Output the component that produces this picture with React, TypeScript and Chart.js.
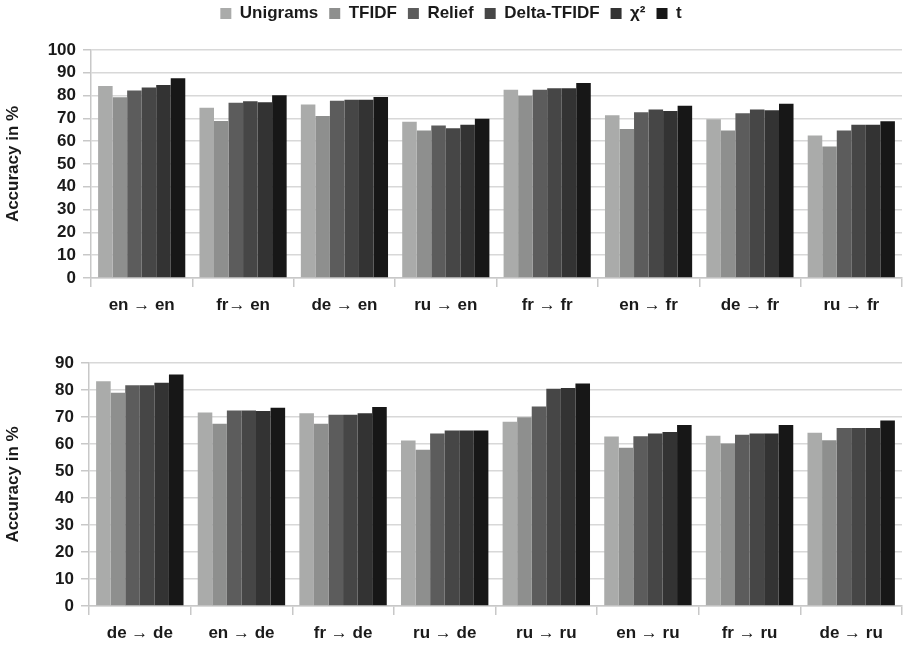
import React, { useEffect, useRef } from "react";
import { Chart, registerables } from "chart.js";

Chart.register(...registerables);

const seriesNames = ["Unigrams", "TFIDF", "Relief", "Delta-TFIDF", "χ²", "t"];
const seriesColors = ["#aaabaa", "#8e8f8e", "#5c5c5c", "#464646", "#333333", "#171717"];

const topCategories = ["en → en", "fr→ en", "de → en", "ru → en", "fr → fr", "en → fr", "de → fr", "ru → fr"];
const topUnigrams = [84.2, 74.7, 76.1, 68.5, 82.6, 71.4, 69.6, 62.5];
const topTfidf = [79.3, 68.9, 71.1, 64.7, 79.9, 65.4, 64.7, 57.7];
const topRelief = [82.2, 76.9, 77.7, 66.9, 82.6, 72.7, 72.3, 64.7];
const topDelta = [83.6, 77.5, 78.2, 65.7, 83.2, 73.9, 73.9, 67.2];
const topChi = [84.7, 77.1, 78.2, 67.2, 83.2, 73.3, 73.6, 67.2];
const topT = [87.6, 80.1, 79.4, 69.9, 85.5, 75.5, 76.4, 68.8];

const bottomCategories = ["de → de", "en → de", "fr → de", "ru → de", "ru → ru", "en → ru", "fr → ru", "de → ru"];
const bottomUnigrams = [83.2, 71.7, 71.4, 61.3, 68.2, 62.8, 63.1, 64.2];
const bottomTfidf = [79.0, 67.5, 67.5, 57.9, 69.9, 58.6, 60.2, 61.4];
const bottomRelief = [81.8, 72.4, 70.8, 63.9, 73.9, 62.9, 63.4, 65.9];
const bottomDelta = [81.8, 72.4, 70.8, 65.0, 80.5, 63.9, 63.9, 65.9];
const bottomChi = [82.7, 72.2, 71.4, 65.0, 80.7, 64.4, 63.9, 65.9];
const bottomT = [85.7, 73.4, 73.7, 65.0, 82.4, 67.0, 67.0, 68.7];

const topMax = 100;
const bottomMax = 90;
const yTitle = "Accuracy in %";

const FONT = "'Liberation Sans', Arial, sans-serif";
const FS = 17;

function buildConfig(
  categories: string[],
  series: number[][],
  max: number,
  showLegend: boolean,
  dims: { left: number; top: number; xHeight: number; legendHeight: number }
): any {
  const legendPlugin = {
    id: "legendHeightFix",
    beforeInit(chart: any) {
      if (!chart.legend) return;
      const origFit = chart.legend.fit;
      chart.legend.fit = function () {
        origFit.bind(chart.legend)();
        this.height = dims.legendHeight;
      };
    },
  };
  return {
    type: "bar",
    data: {
      labels: categories,
      datasets: series.map((vals, i) => ({
        label: seriesNames[i],
        data: vals,
        backgroundColor: seriesColors[i],
        borderWidth: 0,
        barPercentage: 1.0,
        categoryPercentage: 0.86,
      })),
    },
    plugins: [legendPlugin],
    options: {
      responsive: false,
      animation: false,
      layout: { padding: { top: dims.top, right: 6, left: 0, bottom: 0 } },
      plugins: {
        tooltip: { enabled: false },
        legend: {
          display: showLegend,
          position: "top",
          labels: {
            boxWidth: 11,
            boxHeight: 11,
            padding: 11,
            color: "#1a1a1a",
            font: { family: FONT, size: FS, weight: "bold" },
          },
        },
      },
      scales: {
        x: {
          offset: true,
          grid: {
            offset: true,
            drawOnChartArea: true,
            color: (ctx: any) => (ctx.index === categories.length ? "#c8c8c8" : "rgba(0,0,0,0)"),
            tickColor: "#c8c8c8",
            tickLength: 9,
            lineWidth: 1.5,
          },
          border: { display: true, color: "#c8c8c8", width: 1.5 },
          ticks: {
            color: "#1a1a1a",
            padding: 8,
            maxRotation: 0,
            autoSkip: false,
            font: { family: FONT, size: FS, weight: "bold" },
          },
          afterFit: (scale: any) => {
            scale.height = dims.xHeight;
          },
        },
        y: {
          min: 0,
          max: max,
          ticks: {
            stepSize: 10,
            autoSkip: false,
            color: "#1a1a1a",
            padding: 7,
            font: { family: FONT, size: FS, weight: "bold" },
          },
          grid: { color: "#d8d8d8", lineWidth: 1.5, tickLength: 8, tickColor: "#c8c8c8" },
          border: { display: true, color: "#c8c8c8", width: 1.5 },
          title: {
            display: true,
            text: yTitle,
            color: "#1a1a1a",
            padding: { top: 3, bottom: 0 },
            font: { family: FONT, size: FS, weight: "bold" },
          },
          afterFit: (scale: any) => {
            scale.width = dims.left;
          },
        },
      },
    },
  };
}

function ChartCanvas(props: { config: any; width: number; height: number; top: number }) {
  const ref = useRef<HTMLCanvasElement | null>(null);
  useEffect(() => {
    if (!ref.current) return;
    const chart = new Chart(ref.current, props.config);
    return () => chart.destroy();
  }, []);
  return (
    <canvas
      ref={ref}
      width={props.width}
      height={props.height}
      style={{ position: "absolute", left: 0, top: props.top, width: props.width, height: props.height }}
    />
  );
}

export default function App() {
  const topConfig = buildConfig(
    topCategories,
    [topUnigrams, topTfidf, topRelief, topDelta, topChi, topT],
    topMax,
    true,
    { left: 91, top: -6, xHeight: 44, legendHeight: 56 }
  );
  const bottomConfig = buildConfig(
    bottomCategories,
    [bottomUnigrams, bottomTfidf, bottomRelief, bottomDelta, bottomChi, bottomT],
    bottomMax,
    false,
    { left: 89, top: 41, xHeight: 39, legendHeight: 0 }
  );
  return (
    <div style={{ position: "absolute", left: 0, top: 0, width: 908, height: 645, background: "#fff" }}>
      <ChartCanvas config={topConfig} width={908} height={322} top={0} />
      <ChartCanvas config={bottomConfig} width={908} height={323} top={322} />
    </div>
  );
}
